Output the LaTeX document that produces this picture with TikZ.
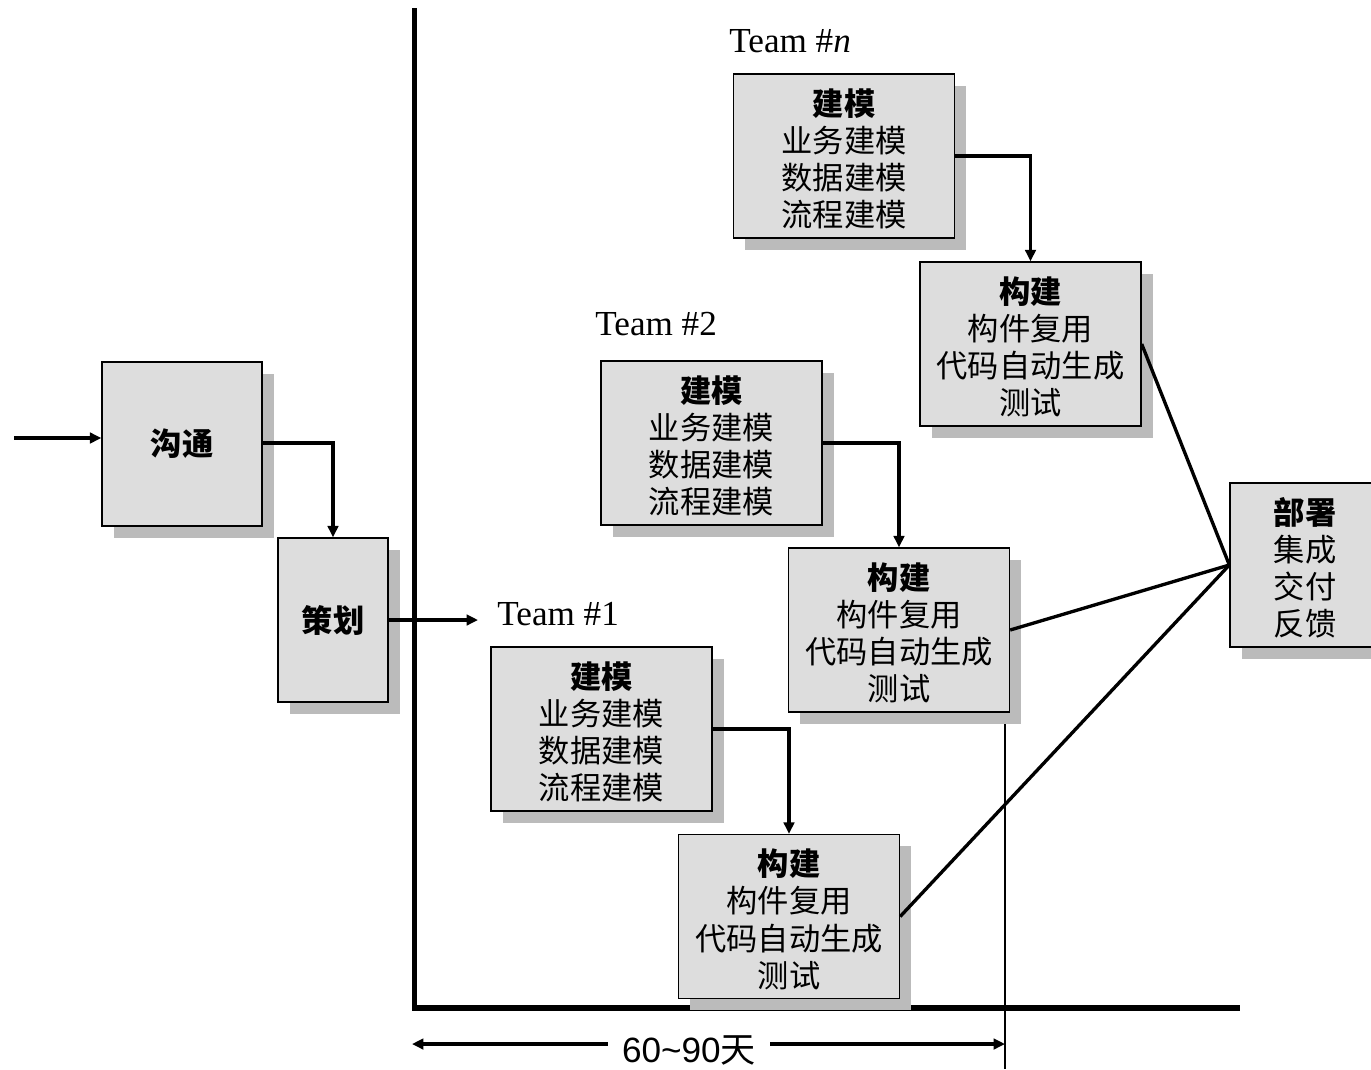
\documentclass[tikz,border=0pt]{standalone}
\usepackage{fontspec}
\setmainfont{Liberation Serif}
\newfontfamily\cjk{Noto Sans CJK SC}
\newfontfamily\arialf{Liberation Sans}
\usetikzlibrary{shadows,arrows.meta}
\definecolor{boxfill}{HTML}{DDDDDD}
\definecolor{shadowgray}{HTML}{BBBBBB}
\newcommand{\topgap}{\rule{0pt}{18.5pt}}
\tikzset{
  box/.style={draw=black, line width=0.8pt, fill=boxfill, inner sep=0pt, align=center,
    font=\cjk\fontsize{17.8}{21.2}\selectfont,
    general shadow={fill=shadowgray, shadow xshift=6.8pt, shadow yshift=-6.8pt},
    minimum width=4.42cm, minimum height=3.28cm},
  narrowbox/.style={box, minimum width=#1},
  conn/.style={line width=1.9pt, -{Triangle[length=6.5pt,width=6pt]}},
  plainconn/.style={line width=1.9pt},
  axis/.style={line width=2.9pt},
  teamlabel/.style={anchor=base west, inner sep=0pt, font=\fontsize{20}{24}\selectfont},
}
\begin{document}
\begin{tikzpicture}[x=0.02cm,y=-0.02cm]
\useasboundingbox (0,0) rectangle (1371,1069);
\clip (0,0) rectangle (1371,1069);
\fill[white] (0,0) rectangle (1371,1069);

% axes
\coordinate (axtop) at (414.5,8);
\coordinate (axcorner) at (414.5,1008);
\coordinate (axright) at (1240,1008);
\draw[axis, line join=miter] (axtop) -- (axcorner) -- (axright);
\coordinate (vtop) at (1005,724);
\coordinate (vbot) at (1005,1069);
\draw[line width=1.4pt] (vtop) -- (vbot);

% boxes
\node[narrowbox=3.2cm] (gt) at (182,444) {\rule{0pt}{0pt}\raisebox{-1pt}{\bfseries 沟通}};
\node[narrowbox=2.2cm] (ch) at (333,620) {\raisebox{-1pt}{\bfseries 策划}};

\node[box] (m1) at (601.5,729) {\topgap{\bfseries 建模}\\业务建模\\数据建模\\流程建模};
\node[box] (b1) at (789,916.5) {\topgap{\bfseries 构建}\\构件复用\\代码自动生成\\测试};
\node[box] (m2) at (711.5,443) {\topgap{\bfseries 建模}\\业务建模\\数据建模\\流程建模};
\node[box] (b2) at (899,630) {\topgap{\bfseries 构建}\\构件复用\\代码自动生成\\测试};
\node[box] (mn) at (844,156) {\topgap{\bfseries 建模}\\业务建模\\数据建模\\流程建模};
\node[box] (bn) at (1030.5,344) {\topgap{\bfseries 构建}\\构件复用\\代码自动生成\\测试};
\node[narrowbox=3.0cm] (bs) at (1305,565) {\topgap{\bfseries 部署}\\集成\\交付\\反馈};

% team labels
\node[teamlabel] (t1) at (497,625) {Team \#1};
\node[teamlabel] (t2) at (595,335) {Team \#2};
\node[teamlabel] (tn) at (729,52) {Team \#\textit{n}};

% connectors
\coordinate (instart) at (14,438);
\draw[conn] (instart) -- (instart -| gt.west);
\coordinate (gtout) at (262,443);
\draw[conn] (gtout) -| (ch.north);
\coordinate (chout) at (478,620);
\draw[conn] (chout -| ch.east) -- (chout);
\draw[conn] (m1.east) -| (b1.north);
\draw[conn] (m2.east) -| (b2.north);
\draw[conn] (mn.east) -| (bn.north);
\draw[plainconn] (b1.east) -- (bs.west);
\draw[plainconn] (b2.east) -- (bs.west);
\draw[plainconn] (bn.east) -- (bs.west);

% duration
\node[inner xsep=8pt, inner ysep=0pt, font=\arialf\fontsize{20}{24}\selectfont] (dur) at (689,1050) {60\char`\~90{\cjk 天}};
\coordinate (durl) at (412,1044);
\coordinate (durr) at (1005,1044);
\draw[conn] (dur.west |- durl) -- (durl);
\draw[conn] (dur.east |- durr) -- (durr);
\end{tikzpicture}
\end{document}
